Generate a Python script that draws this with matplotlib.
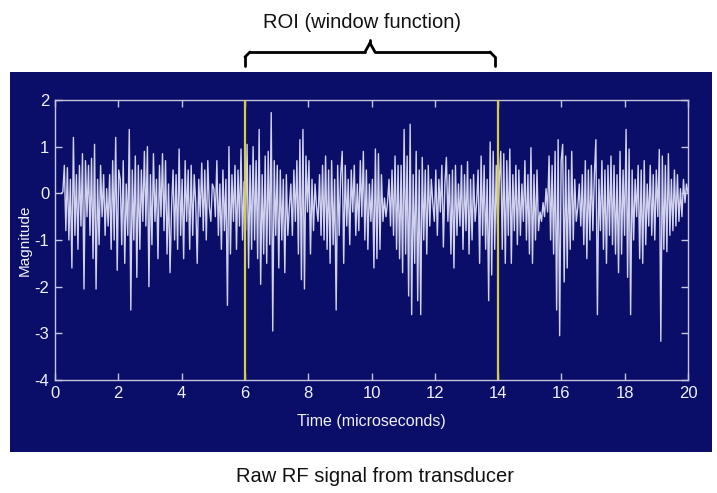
import numpy as np
import matplotlib
matplotlib.use("Agg")
import matplotlib.pyplot as plt
from matplotlib.lines import Line2D

# ---- data (alternating peaks/troughs, one row per microsecond) ----
signal_rows = [
    [0.0, 0.03, 0.6, -0.8, 0.55, -1.0, 0.3, -1.6, 1.2, -0.9, 0.4, -1.2, 0.6, -0.7, 0.85, -2.05, 0.7],
    [-0.5, 0.6, -0.9, 0.75, -1.4, 1.05, -2.05, 0.3, -1.1, 0.6, -0.5, 0.4, -0.9, 0.1, -0.7, 0.4, -1.2, 0.7, -1.0, 1.2, -1.65],
    [0.5, 0.3, -1.1, 0.7, -1.5, 0.2, -0.9, 1.37, -2.5, 0.5, -1.0, 0.8, -1.8, 0.6, -1.2, 0.5, -0.6, 0.9, -0.7, 1.0, -2.0],
    [0.4, -1.1, 0.85, -0.6, 0.3, -1.4, 0.6, -0.5, 0.85, -0.8, 0.7, -1.3, 0.2, -1.7, -0.3, 0.5, -1.0, 0.4, -1.2, 0.95, -0.9],
    [0.3, -1.4, 0.7, -0.6, 0.5, -1.2, 0.6, -0.9, 0.4, -0.2, -1.5, 0.3, -0.5, 0.65, -0.8, 0.5, -1.0, 0.7, -0.3, -0.6, 0.2],
    [0.1, -0.5, 0.7, -0.9, 0.2, -1.2, 0.5, -0.8, 0.3, -2.4, 1.0, -1.3, 0.4, -0.6, 0.6, -1.2, 0.5, -0.7, 0.95, -1.0, 0.25],
    [-0.8, 1.05, -1.6, 0.6, -1.2, 1.0, -1.0, 0.7, -1.4, 1.37, -1.95, 0.4, -1.3, 0.8, -1.5, 0.9, -1.1, 1.73, -2.95, 0.7, -0.9],
    [0.6, -1.6, 0.5, -1.0, 0.3, -1.7, 0.4, -0.9, -0.3, 0.2, -0.9, 0.5, -0.6, 0.7, -1.3, 1.15, -1.85, 1.37, -2.05, 0.8, -0.4],
    [0.7, -1.3, 0.3, -0.8, 0.2, -0.3, -0.6, 0.4, -0.9, 0.6, -1.0, 0.8, -1.2, 0.5, -1.5, 0.7, -1.1, 0.3, -2.5, 0.6, -0.9],
    [0.4, 0.9, -1.5, 0.6, -0.7, 0.3, -1.1, 0.5, -0.4, 0.6, -0.9, 0.2, -0.8, 0.7, -0.5, 0.9, -1.0, 0.5, -1.2, 0.2, -0.6],
    [0.3, -1.6, 0.95, -1.4, 0.85, -1.2, 0.4, -0.6, -0.1, -0.5, -0.2, 0.3, -0.7, 0.5, -0.9, 0.8, -1.2, 0.6, -1.4, 0.6, -1.7],
    [1.37, -1.3, 0.8, -2.2, 1.48, -2.6, 0.4, -1.5, 0.9, -2.3, 0.5, -2.6, 0.77, -1.0, 0.5, -1.3, 0.6, -0.7, 0.3, -0.2, -0.6],
    [0.5, -0.9, 0.3, -0.4, 0.6, -1.15, 0.2, 0.77, -0.6, 0.4, -1.3, 0.5, -1.6, 0.6, -0.9, 0.2, -0.7, 0.6, -1.2, 0.4, -0.8],
    [0.68, -1.3, 0.3, -1.0, 0.4, -0.6, -0.2, 0.5, -1.5, 0.8, -0.9, 0.6, -1.2, 0.3, -2.3, 1.1, -1.75, 0.9, -1.2, 0.6, -1.0],
    [0.25, 0.9, -1.2, 0.85, -1.5, 0.7, -0.9, 0.95, -1.5, 0.4, -0.8, 0.6, -1.1, 0.5, -0.9, 0.2, -0.6, 0.7, -1.0, 0.4, -1.3],
    [0.98, -1.5, 0.4, -1.0, 0.5, -0.8, -0.4, -0.6, -0.2, -0.5, 0.1, -0.4, 0.8, -1.0, 0.6, -1.3, 0.9, -2.5, 1.15, -3.05, 0.7],
    [1.05, -1.9, 0.8, -1.6, 0.5, -1.2, 0.9, -1.0, 0.3, -0.6, -0.3, 0.2, -0.7, 0.4, -1.1, 0.7, -1.4, 0.5, -1.0, 0.6, -0.8],
    [0.4, 1.15, -2.6, 0.3, -0.8, 0.7, -1.2, 0.5, -1.5, 0.6, -0.9, 0.8, -1.1, 0.6, -1.3, 0.4, -1.7, 0.9, -1.3, 0.5, -0.9],
    [1.37, -1.8, 0.95, -2.6, 0.5, -1.0, 0.3, -0.5, 0.6, -1.4, 0.5, -1.5, 0.7, -1.1, 0.2, -0.7, 0.6, -0.9, 0.4, -1.0, 0.5],
    [-0.5, 0.94, -3.17, 0.8, -1.2, 0.6, -1.25, 0.85, -0.9, 0.3, -0.8, 0.5, -0.7, 0.4, -0.6, 0.1, -0.5, 0.3, -0.2, 0.2, 0.0],
]
t_start, t_end = 0.2, 20.0
roi_bounds = [6, 14]
x_ticks = [0, 2, 4, 6, 8, 10, 12, 14, 16, 18, 20]
y_ticks = [-4, -3, -2, -1, 0, 1, 2]

values = np.concatenate([np.array(r, dtype=float) for r in signal_rows])
times = np.linspace(t_start, t_end, len(values))

# ---- styling ----
W, H = 717, 493
panel_color = "#0a0e68"
line_color = "#d2d2ef"
axis_color = "#c4c4dc"
text_color = "#f0f0f8"
yellow = "#d6cc48"
tick_font = ["Liberation Sans Narrow", "Liberation Sans", "DejaVu Sans"]
main_font = ["Liberation Sans", "DejaVu Sans"]

fig = plt.figure(figsize=(W / 100, H / 100), dpi=100)
fig.patch.set_facecolor("white")

def fx(x):
    return x / W

def fy(y):
    return 1 - y / H

# dark panel behind the axes (a bare axes used as background)
bg = fig.add_axes([fx(10), fy(452), fx(712) - fx(10), fy(72) - fy(452)], zorder=-10)
bg.set_facecolor(panel_color)
bg.set_xticks([])
bg.set_yticks([])
for s in bg.spines.values():
    s.set_visible(False)

ax = fig.add_axes([fx(55), fy(380), fx(688) - fx(55), fy(100) - fy(380)], zorder=1)
ax.set_facecolor(panel_color)
ax.plot(times, values, color=line_color, lw=1.0, zorder=2)
for b in roi_bounds:
    ax.axvline(b, color=yellow, lw=1.6, zorder=3)

ax.set_xlim(0, 20)
ax.set_ylim(-4, 2)
ax.set_xticks(x_ticks)
ax.set_yticks(y_ticks)
ax.set_xticklabels([str(v) for v in x_ticks], family=tick_font, fontsize=12, color=text_color)
ax.set_yticklabels([str(v) for v in y_ticks], family=tick_font, fontsize=12, color=text_color)
ax.tick_params(direction="in", length=5, width=1, color=axis_color,
               top=True, right=True, pad=4)
for s in ax.spines.values():
    s.set_color(axis_color)
    s.set_linewidth(1.0)
ax.set_xlabel("Time (microseconds)", family=tick_font, fontsize=11.5, color=text_color, labelpad=10)
ax.set_ylabel("Magnitude", family=tick_font, fontsize=11, color=text_color, labelpad=2)

# ROI bracket above the panel
bl, br, by, bend, bc, btop = 245, 495, 52, 66, 370, 40
r = 5
segs = [
    ([bl, bl], [bend, by + r]),
    ([bl, bl + r], [by + r, by]),
    ([bl + r, bc - r], [by, by]),
    ([bc - r, bc], [by, btop + 3]),
    ([bc, bc + r], [btop + 3, by]),
    ([bc, bc], [btop, btop + 3]),
    ([bc + r, br - r], [by, by]),
    ([br - r, br], [by, by + r]),
    ([br, br], [by + r, bend]),
]
for xs, ys in segs:
    fig.add_artist(Line2D([fx(v) for v in xs], [fy(v) for v in ys],
                          transform=fig.transFigure, color="black", lw=2,
                          solid_capstyle="round"))

fig.text(fx(362), fy(22), "ROI (window function)", ha="center", va="center",
         family=main_font, fontsize=14.5, color="#111111")
fig.text(fx(375), fy(476), "Raw RF signal from transducer", ha="center", va="center",
         family=main_font, fontsize=14.5, color="#111111")

fig.savefig("out.png", dpi=100, facecolor="white")
